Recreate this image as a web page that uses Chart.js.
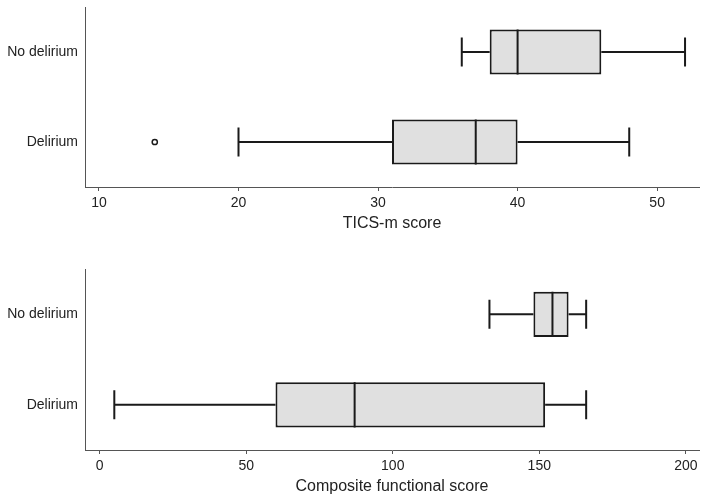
<!DOCTYPE html>
<html>
<head>
<meta charset="utf-8">
<script src="https://cdn.jsdelivr.net/npm/chart.js@4.4.1/dist/chart.umd.min.js"></script>
<style>
  html, body { margin: 0; padding: 0; background: #fff; }
  .panel { position: relative; width: 708px; }
</style>
</head>
<body>
<div class="panel" style="height:250px"><canvas id="ticsChart" width="708" height="250"></canvas></div>
<div class="panel" style="height:247px"><canvas id="funcChart" width="708" height="247"></canvas></div>
<script>
// Groups (top to bottom)
const groups = ['No delirium', 'Delirium'];

// TICS-m score box plot stats per group
const ticsMin = [36, 20];
const ticsQ1 = [38, 31];
const ticsMedian = [40, 37];
const ticsQ3 = [46, 40];
const ticsMax = [52, 48];
const ticsOutliers = [[], [14]];
const ticsTicks = [10, 20, 30, 40, 50];

// Composite functional score box plot stats per group
const funcMin = [133, 5];
const funcQ1 = [148, 60];
const funcMedian = [154.5, 87];
const funcQ3 = [160, 152];
const funcMax = [166, 166];
const funcOutliers = [[], []];
const funcTicks = [0, 50, 100, 150, 200];

const INK = '#1a1a1a';
const AXIS = '#555555';
Chart.defaults.font.family = '"Liberation Sans", Arial, sans-serif';
Chart.defaults.color = '#222222';

// draws whiskers, caps, medians and outliers on top of the floating bars
const boxPlotPlugin = {
    id: 'boxPlot',
    afterDatasetsDraw(chart, args, opts) {
        const ctx = chart.ctx;
        const xs = chart.scales.x;
        const meta = chart.getDatasetMeta(0);
        ctx.save();
        ctx.strokeStyle = INK;
        ctx.lineWidth = 2;
        meta.data.forEach((bar, i) => {
            const y = bar.y;
            const half = bar.height / 2;
            const cap = half * 0.64;
            const lo = xs.getPixelForValue(opts.min[i]);
            const q1 = xs.getPixelForValue(opts.q1[i]);
            const q3 = xs.getPixelForValue(opts.q3[i]);
            const hi = xs.getPixelForValue(opts.max[i]);
            const med = xs.getPixelForValue(opts.median[i]);

            ctx.beginPath();
            ctx.moveTo(lo, y); ctx.lineTo(q1, y);
            ctx.moveTo(q3, y); ctx.lineTo(hi, y);
            ctx.moveTo(lo, y - cap); ctx.lineTo(lo, y + cap);
            ctx.moveTo(hi, y - cap); ctx.lineTo(hi, y + cap);
            ctx.moveTo(med, y - half); ctx.lineTo(med, y + half);
            ctx.stroke();

            ctx.lineWidth = 1.5;
            opts.outliers[i].forEach(v => {
                ctx.beginPath();
                ctx.arc(xs.getPixelForValue(v), y, 2.6, 0, Math.PI * 2);
                ctx.fillStyle = '#fff';
                ctx.fill();
                ctx.stroke();
            });
            ctx.lineWidth = 2;
        });
        ctx.restore();
    }
};

function createBoxChart(id, stats, axis) {
    const ctx = document.getElementById(id).getContext('2d');

    new Chart(ctx, {
        type: 'bar',
        data: {
            labels: groups,
            datasets: [{
                data: stats.q1.map((v, i) => [v, stats.q3[i]]),
                backgroundColor: '#e0e0e0',
                borderColor: INK,
                borderWidth: 2,
                borderSkipped: false,
                barPercentage: 0.5,
                categoryPercentage: 1
            }]
        },
        options: {
            indexAxis: 'y',
            responsive: false,
            animation: false,
            layout: {
                padding: { top: axis.top, right: 9, left: 0, bottom: 0 }
            },
            plugins: {
                legend: { display: false },
                tooltip: { enabled: false },
                boxPlot: stats
            },
            scales: {
                x: {
                    type: 'linear',
                    min: axis.min,
                    max: axis.max,
                    afterBuildTicks: scale => {
                        scale.ticks = axis.ticks.map(v => ({ value: v }));
                    },
                    afterFit: scale => {
                        scale.height = axis.height;
                        scale.paddingLeft = 0;
                        scale.paddingRight = 0;
                    },
                    grid: {
                        display: true,
                        drawOnChartArea: false,
                        drawTicks: true,
                        tickLength: 4,
                        color: AXIS
                    },
                    border: { display: true, color: AXIS, width: 1 },
                    ticks: {
                        padding: 4,
                        font: { size: 14 },
                        color: '#222222',
                        maxRotation: 0
                    },
                    title: {
                        display: true,
                        text: axis.title,
                        font: { size: 16 },
                        color: '#222222',
                        padding: { top: 0, bottom: axis.titlePad }
                    }
                },
                y: {
                    afterFit: scale => {
                        scale.width = 85;
                        scale.paddingTop = 0;
                        scale.paddingBottom = 0;
                    },
                    grid: { display: false, drawTicks: false },
                    border: { display: true, color: AXIS, width: 1 },
                    ticks: {
                        padding: 7,
                        font: { size: 14 },
                        color: '#222222'
                    }
                }
            }
        },
        plugins: [boxPlotPlugin]
    });
}

createBoxChart('ticsChart',
    { min: ticsMin, q1: ticsQ1, median: ticsMedian, q3: ticsQ3, max: ticsMax, outliers: ticsOutliers },
    { min: 9, max: 53, ticks: ticsTicks, title: 'TICS-m score', top: 7, height: 63, titlePad: 17 });

createBoxChart('funcChart',
    { min: funcMin, q1: funcQ1, median: funcMedian, q3: funcQ3, max: funcMax, outliers: funcOutliers },
    { min: -5, max: 204.5, ticks: funcTicks, title: 'Composite functional score', top: 19, height: 47, titlePad: 1 });
</script>
</body>
</html>
